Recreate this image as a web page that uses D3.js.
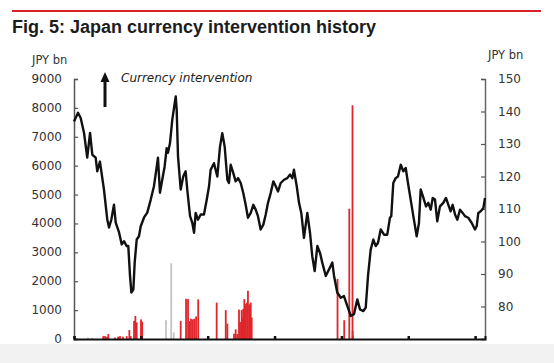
<!DOCTYPE html>
<html>
<head>
<meta charset="utf-8">
<script src="https://cdn.jsdelivr.net/npm/d3@7"></script>
<style>
body { margin: 0; background: #fff; }
svg { display: block; }
</style>
</head>
<body>
<div class="featured"></div>
<script>
// chart texts
var titleText = "Fig. 5: Japan currency intervention history";
var leftUnit = "JPY bn";
var rightUnit = "JPY bn";
var arrowLabel = "Currency intervention";

// axis ticks
var leftTicks = [0, 1000, 2000, 3000, 4000, 5000, 6000, 7000, 8000, 9000];
var rightTicks = [80, 90, 100, 110, 120, 130, 140, 150];
var yearTicks = [1991, 1996, 2001, 2006, 2011, 2016, 2021];

// USD/JPY (right axis)
var lineYears = [1991.00, 1991.30, 1991.50, 1991.75, 1991.99, 1992.20, 1992.37, 1992.62, 1992.74, 1992.94,
  1993.24, 1993.49, 1993.62, 1993.79, 1993.99, 1994.12, 1994.37, 1994.57, 1994.74, 1994.94,
  1995.06, 1995.19, 1995.29, 1995.44, 1995.54, 1995.69, 1995.86, 1995.99, 1996.24, 1996.48,
  1996.74, 1996.98, 1997.19, 1997.28, 1997.43, 1997.60, 1997.78, 1997.93, 1998.03, 1998.18,
  1998.35, 1998.53, 1998.61, 1998.68, 1998.78, 1998.98, 1999.17, 1999.35, 1999.47, 1999.68,
  1999.85, 1999.98, 2000.10, 2000.27, 2000.48, 2000.72, 2000.93, 2001.10, 2001.22, 2001.47,
  2001.72, 2001.92, 2002.09, 2002.27, 2002.47, 2002.59, 2002.72, 2002.91, 2003.09, 2003.27,
  2003.47, 2003.66, 2003.84, 2004.01, 2004.22, 2004.41, 2004.59, 2004.76, 2004.96, 2005.16,
  2005.34, 2005.51, 2005.71, 2005.91, 2006.09, 2006.26, 2006.46, 2006.71, 2006.95, 2007.16,
  2007.33, 2007.45, 2007.66, 2007.83, 2008.00, 2008.20, 2008.45, 2008.65, 2008.82, 2009.00,
  2009.20, 2009.40, 2009.57, 2009.83, 2010.07, 2010.32, 2010.45, 2010.69, 2010.95, 2011.19,
  2011.44, 2011.70, 2011.94, 2012.19, 2012.39, 2012.64, 2012.82, 2012.99, 2013.19, 2013.39,
  2013.57, 2013.74, 2013.94, 2014.19, 2014.43, 2014.63, 2014.73, 2014.88, 2015.06, 2015.23,
  2015.44, 2015.63, 2015.81, 2015.98, 2016.18, 2016.38, 2016.63, 2016.80, 2016.93, 2017.10,
  2017.33, 2017.50, 2017.68, 2017.83, 2018.00, 2018.17, 2018.37, 2018.62, 2018.82, 2019.00,
  2019.17, 2019.32, 2019.50, 2019.67, 2019.87, 2020.07, 2020.24, 2020.49, 2020.75, 2020.99,
  2021.12, 2021.24, 2021.42, 2021.62, 2021.74];
var usdJpy = [136.9, 139.6, 138.0, 133.4, 125.8, 133.4, 126.7, 125.8, 121.6, 124.6,
  116.0, 106.7, 104.3, 106.7, 111.3, 105.8, 102.8, 99.1, 100.1, 98.6,
  98.6, 89.4, 84.3, 85.3, 93.6, 100.6, 101.6, 104.7, 107.4, 108.9,
  112.9, 117.0, 123.1, 125.8, 115.0, 119.0, 123.1, 128.7, 127.3, 130.3,
  137.4, 142.5, 144.6, 140.5, 126.2, 116.0, 120.0, 121.6, 116.0, 107.8,
  105.7, 102.7, 108.8, 106.7, 108.3, 108.3, 112.9, 117.0, 122.1, 124.1,
  120.0, 129.2, 133.3, 129.2, 119.0, 118.0, 123.6, 121.1, 118.5, 119.5,
  118.0, 114.9, 111.3, 107.3, 108.8, 111.3, 109.8, 107.8, 103.7, 105.2,
  108.3, 111.9, 114.9, 118.5, 117.0, 115.4, 118.0, 119.0, 119.5, 120.6,
  119.5, 122.1, 117.0, 111.9, 108.8, 101.1, 108.8, 102.7, 95.5, 90.9,
  98.6, 96.5, 93.5, 89.4, 91.4, 93.5, 89.4, 84.3, 82.7, 83.2,
  80.2, 77.1, 77.6, 82.2, 79.1, 78.6, 79.7, 89.4, 97.5, 100.6,
  98.6, 99.6, 103.7, 102.1, 102.1, 107.3, 107.8, 118.0, 119.5, 120.0,
  123.6, 121.6, 122.6, 118.0, 112.9, 107.8, 101.6, 105.7, 116.0, 113.9,
  110.8, 111.9, 109.8, 113.4, 112.9, 106.2, 110.8, 111.9, 113.4, 111.3,
  109.3, 111.3, 108.3, 106.7, 109.8, 108.8, 107.8, 107.3, 105.7, 103.7,
  104.7, 108.8, 109.3, 110.3, 113.4];

// interventions buying yen (grey, left axis, JPY bn)
var buyYenYears = [1992.05, 1992.35, 1997.88, 1998.27, 1998.46];
var buyYenAmount = [50, 40, 650, 2620, 230];

// interventions selling yen (red, left axis, JPY bn)
var sellYenYears = [1993.19, 1993.32, 1993.47, 1993.57, 1994.07, 1994.30, 1994.44, 1994.66, 1994.94, 1995.14,
  1995.24, 1995.49, 1995.59, 1995.69, 1996.01, 1996.10, 1998.98, 1999.38, 1999.53, 1999.64,
  1999.75, 1999.88, 2000.00, 2000.13, 2000.29, 2001.67, 2002.35, 2002.47, 2002.97, 2003.09,
  2003.21, 2003.34, 2003.42, 2003.54, 2003.62, 2003.66, 2003.74, 2003.84, 2003.94, 2004.01,
  2004.11, 2004.22, 2004.29, 2010.71, 2011.21, 2011.59, 2011.83, 2011.84, 2011.85];
var sellYenAmount = [100, 100, 80, 170, 50, 80, 100, 80, 100, 310,
  100, 625, 800, 570, 680, 600, 625, 1390, 1380, 620,
  700, 680, 700, 780, 1370, 1260, 1000, 530, 180, 335,
  170, 1020, 590, 1000, 740, 1040, 1380, 1210, 1260, 1670,
  1200, 1260, 740, 2080, 650, 4510, 8090, 280, 100];

var W = 554, H = 363;
var svg = d3.select(".featured").append("svg").attr("width", W).attr("height", H);

svg.append("rect").attr("width", W).attr("height", H).attr("fill", "#fff");
// light band at the bottom of the page
svg.append("rect").attr("x", 0).attr("y", 344).attr("width", W).attr("height", H - 344).attr("fill", "#f2f2f2");

// header
svg.append("line").attr("x1", 12).attr("x2", 541).attr("y1", 11).attr("y2", 11)
  .attr("stroke", "#d8232a").attr("stroke-width", 2);
svg.append("text").attr("x", 12).attr("y", 33).text(titleText)
  .attr("font-family", "Liberation Sans, Arial, sans-serif").attr("font-weight", "bold")
  .attr("font-size", 18).attr("fill", "#1c1c1c");

var plotLeft = 74, plotRight = 485, plotTop = 79, plotBottom = 339;
var x = d3.scaleLinear().domain([1991, 2021.74]).range([plotLeft, plotRight]);
var yL = d3.scaleLinear().domain([0, 9000]).range([plotBottom, plotTop]);
var yR = d3.scaleLinear().domain([70, 150]).range([plotBottom, plotTop]);

var font = "DejaVu Sans, Verdana, sans-serif";

// left axis (ticks inward)
var gL = svg.append("g").attr("transform", "translate(" + plotLeft + ",0)")
  .call(d3.axisRight(yL).tickValues(leftTicks).tickSize(4).tickFormat(""));
gL.select(".domain").attr("stroke", "#555").attr("stroke-width", 1.5);
gL.selectAll(".tick line").attr("stroke", "#555").attr("stroke-width", 1.2);
svg.selectAll(".lLab").data(leftTicks).enter().append("text")
  .attr("x", 62).attr("y", function(d) { return yL(d) + 4; })
  .attr("text-anchor", "end").attr("font-family", font).attr("font-size", 12).attr("fill", "#333")
  .text(function(d) { return d; });

// right axis (ticks inward)
var gR = svg.append("g").attr("transform", "translate(" + plotRight + ",0)")
  .call(d3.axisLeft(yR).tickValues([70].concat(rightTicks)).tickSize(4).tickFormat(""));
gR.select(".domain").attr("stroke", "#666").attr("stroke-width", 1.5);
gR.selectAll(".tick line").attr("stroke", "#555").attr("stroke-width", 1.2);
svg.selectAll(".rLab").data(rightTicks).enter().append("text")
  .attr("x", 498).attr("y", function(d) { return yR(d) + 4; })
  .attr("font-family", font).attr("font-size", 12).attr("fill", "#333")
  .text(function(d) { return d; });

// units
svg.append("text").attr("x", 32).attr("y", 64).text(leftUnit)
  .attr("font-family", font).attr("font-size", 11.5).attr("fill", "#333");
svg.append("text").attr("x", 488).attr("y", 59).text(rightUnit)
  .attr("font-family", font).attr("font-size", 11.5).attr("fill", "#333");

// intervention bars
svg.selectAll(".buy").data(buyYenYears).enter().append("rect")
  .attr("x", function(d) { return x(d) - 0.9; }).attr("width", 1.8)
  .attr("y", function(d, i) { return yL(buyYenAmount[i]); })
  .attr("height", function(d, i) { return yL(0) - yL(buyYenAmount[i]); })
  .attr("fill", "#c4c4c4");
svg.selectAll(".sell").data(sellYenYears).enter().append("rect")
  .attr("x", function(d) { return x(d) - 0.9; }).attr("width", 1.8)
  .attr("y", function(d, i) { return yL(sellYenAmount[i]); })
  .attr("height", function(d, i) { return yL(0) - yL(sellYenAmount[i]); })
  .attr("fill", "#e0262b");

// USD/JPY line
var lineFunction = d3.line()
  .x(function(d, i) { return x(lineYears[i]); })
  .y(function(d) { return yR(d); });
svg.append("path").attr("d", lineFunction(usdJpy))
  .attr("fill", "none").attr("stroke", "#111").attr("stroke-width", 2.4).attr("stroke-linejoin", "round");

// x axis
var gX = svg.append("g").attr("transform", "translate(0," + plotBottom + ")")
  .call(d3.axisTop(x).tickValues(yearTicks).tickSize(3).tickFormat(""));
gX.select(".domain").attr("stroke", "#111").attr("stroke-width", 2);
gX.selectAll(".tick line").attr("stroke", "#111").attr("stroke-width", 2.5);

// arrow note
svg.append("line").attr("x1", 105).attr("x2", 105).attr("y1", 107).attr("y2", 80)
  .attr("stroke", "#111").attr("stroke-width", 3);
svg.append("path").attr("d", "M105,72 L100.5,82 L109.5,82 Z").attr("fill", "#111");
svg.append("text").attr("x", 121).attr("y", 82).text(arrowLabel)
  .attr("font-family", font).attr("font-style", "italic").attr("font-size", 12).attr("fill", "#222");
</script>
</body>
</html>
